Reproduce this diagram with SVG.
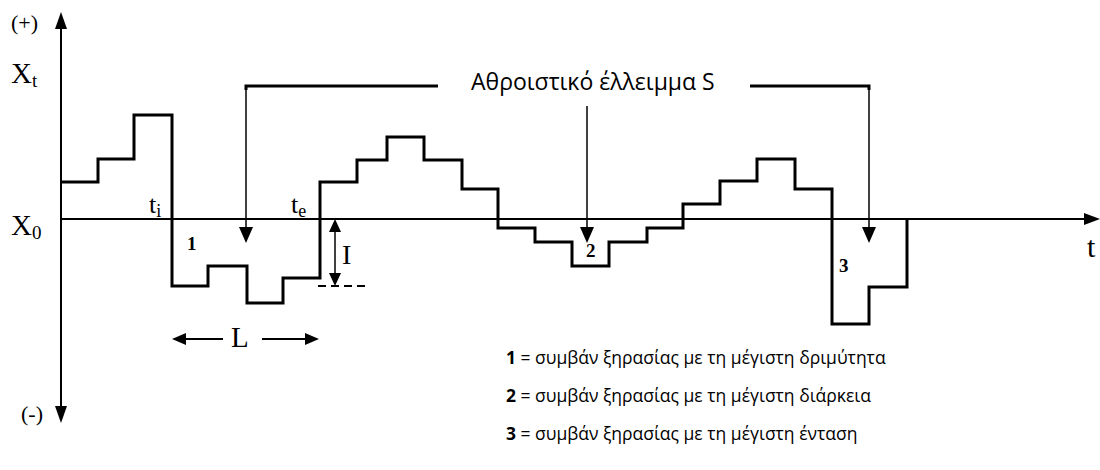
<svg xmlns="http://www.w3.org/2000/svg" width="1100" height="470" viewBox="0 0 1100 470">
<defs>
<style>
.serif{font-family:"Liberation Serif","Times New Roman",serif;fill:#000}
.sans{font-family:"Open Sans","Noto Sans",sans-serif;fill:#000}
.axis{stroke:#000;stroke-width:2;fill:none}
.curve{stroke:#000;stroke-width:3;fill:none;stroke-linejoin:miter}
.thin{stroke:#000;stroke-width:1.5;fill:none}
.thick{stroke:#000;stroke-width:3;fill:none}
.head{fill:#000;stroke:none}
</style>
</defs>
<rect width="1100" height="470" fill="#fff"/>
<g id="axes">
<line class="axis" x1="61" y1="24" x2="61" y2="410"/>
<polygon class="head" points="61,12 55,29 67,29"/>
<polygon class="head" points="61,423 55,406 67,406"/>
<line class="axis" x1="61" y1="219" x2="1088" y2="219"/>
<polygon class="head" points="1100,219 1084,213 1084,225"/>
<text class="serif" x="11" y="30" font-size="22">(+)</text>
<text class="serif" x="21" y="421" font-size="22">(-)</text>
<text class="serif" x="11" y="83" font-size="29">X<tspan font-size="19" dy="4">t</tspan></text>
<text class="serif" x="11" y="235" font-size="29">X<tspan font-size="19" dy="4">0</tspan></text>
<text class="serif" x="1087" y="257" font-size="30">t</text>
</g>
<g id="series">
<path class="curve" d="M61,182 H98 V159 H134 V115 H172 V286 H208 V266 H247 V303 H283 V278 H320 V182 H357 V160 H387 V137 H424 V160 H462 V189 H498 V228 H535 V242 H572 V266 H609 V242 H647 V228 H683 V204 H720 V181 H757 V159 H795 V189 H832 V324 H869 V287 H907 V219"/>
<text class="serif" x="149" y="213" font-size="26">t<tspan font-size="18" dy="4">i</tspan></text>
<text class="serif" x="291" y="213" font-size="26">t<tspan font-size="18" dy="4">e</tspan></text>
<text class="serif" x="187" y="250" font-size="19" font-weight="bold">1</text>
<text class="serif" x="586" y="257" font-size="19" font-weight="bold">2</text>
<text class="serif" x="839" y="272" font-size="19" font-weight="bold">3</text>
</g>
<g id="intensity">
<line class="thin" x1="335" y1="230" x2="335" y2="275"/>
<polygon class="head" points="335,219 329,232 341,232"/>
<polygon class="head" points="335,286 329,273 341,273"/>
<line x1="318" y1="286" x2="366" y2="286" stroke="#000" stroke-width="2" stroke-dasharray="8,5"/>
<text class="serif" x="342" y="264" font-size="28">I</text>
</g>
<g id="duration">
<line class="axis" x1="182" y1="339" x2="223" y2="339"/>
<polygon class="head" points="172,339 186,333 186,345"/>
<line class="axis" x1="262" y1="339" x2="308" y2="339"/>
<polygon class="head" points="319,339 305,333 305,345"/>
<text class="serif" x="231" y="347" font-size="29">L</text>
</g>
<g id="label">
<text class="sans" x="471" y="90" font-size="23">Αθροιστικό έλλειμμα S</text>
</g>
<g id="connectors">
<polyline class="thick" points="438,86 246,86 246,90"/>
<line class="thin" x1="246" y1="86" x2="246" y2="230"/>
<polygon class="head" points="246,243 239,227 253,227"/>
<line class="thin" x1="587" y1="106" x2="587" y2="230"/>
<polygon class="head" points="587,243 580,227 594,227"/>
<polyline class="thick" points="750,86 869,86 869,90"/>
<line class="thin" x1="869" y1="86" x2="869" y2="230"/>
<polygon class="head" points="869,243 862,227 876,227"/>
</g>
<g id="legend">
<text class="sans" x="506" y="364" font-size="17.5"><tspan font-weight="bold">1</tspan> = συμβάν ξηρασίας με τη μέγιστη δριμύτητα</text>
<text class="sans" x="506" y="402" font-size="17.5"><tspan font-weight="bold">2</tspan> = συμβάν ξηρασίας με τη μέγιστη διάρκεια</text>
<text class="sans" x="506" y="440" font-size="17.5"><tspan font-weight="bold">3</tspan> = συμβάν ξηρασίας με τη μέγιστη ένταση</text>
</g>
</svg>
